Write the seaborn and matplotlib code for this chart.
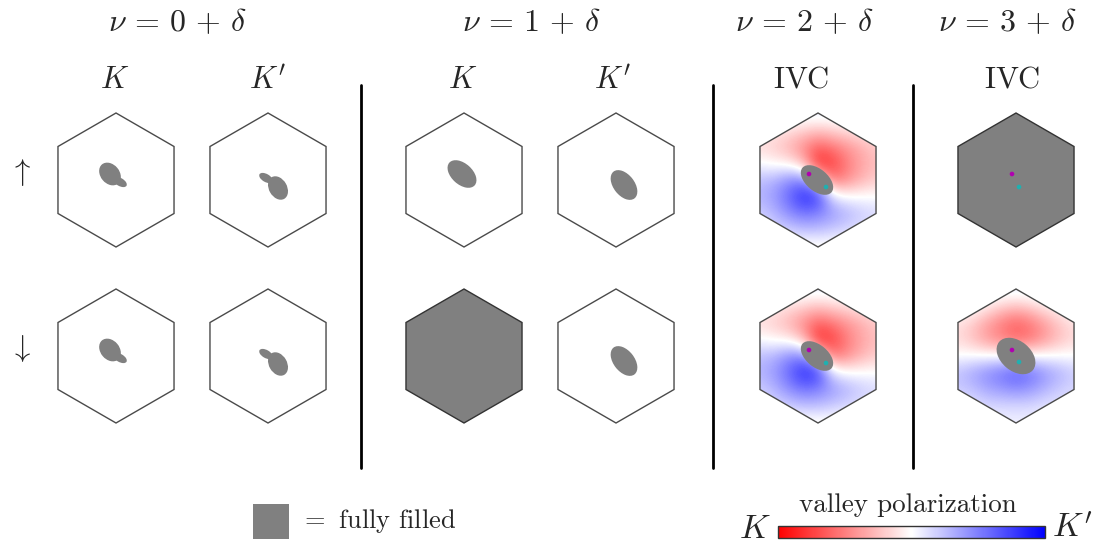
import numpy as np
import matplotlib
matplotlib.use("Agg")
import matplotlib.pyplot as plt
from matplotlib.patches import Polygon, Ellipse, Rectangle
from matplotlib.colors import Normalize
from matplotlib.cm import ScalarMappable
import seaborn as sns

sns.set_style("white")
plt.rcParams["mathtext.fontset"] = "cm"
plt.rcParams["font.family"] = ["cmr10", "DejaVu Sans"]
plt.rcParams["axes.formatter.use_mathtext"] = True

# ---------------- data ----------------
titles = [r"$\nu\,=\,0\,+\,\delta$", r"$\nu\,=\,1\,+\,\delta$",
          r"$\nu\,=\,2\,+\,\delta$", r"$\nu\,=\,3\,+\,\delta$"]
col_labels = [r"$K$", r"$K'$", r"$K$", r"$K'$", r"$\mathrm{IVC}$", r"$\mathrm{IVC}$"]
row_labels = [r"$\uparrow$", r"$\downarrow$"]

# state of every Brillouin-zone panel: pocket / full / ivc
panel_kind = [
    ["pocket", "pocket", "pocket", "pocket", "ivc", "full"],
    ["pocket", "pocket", "full", "pocket", "ivc", "ivc"],
]

# Fermi pockets: (dx, dy, semi-major, semi-minor, angle) relative to zone centre
pocket_K0 = [(-6, -6, 12.5, 9.5, 50), (4, 2, 7.5, 4, 30)]
pocket_Kp0 = [(10, 8, 12.5, 9, 60), (-2, -2, 7.5, 4, 30)]
pocket_K1 = [(-2, -6, 17, 10.5, 42)]
pocket_Kp1 = [(8, 5, 17, 10.5, 52)]
pocket_ivc2 = [(-1, 0, 19, 11, 40)]
pocket_ivc3 = [(0, 0, 22, 15, 40)]

pockets = {
    (0, 0): pocket_K0, (0, 1): pocket_Kp0, (0, 2): pocket_K1, (0, 3): pocket_Kp1,
    (0, 4): pocket_ivc2,
    (1, 0): pocket_K0, (1, 1): pocket_Kp0, (1, 3): pocket_Kp1,
    (1, 4): pocket_ivc2, (1, 5): pocket_ivc3,
}

# order-parameter centres (magenta, cyan) offsets
dots = {
    (0, 4): [(-9, -6), (8, 7)],
    (1, 4): [(-9, -6), (8, 7)],
    (0, 5): [(-4, -6), (3, 7)],
    (1, 5): [(-4, -6), (3, 6)],
}
dot_colors = ["#b000b0", "#1fb0b0"]

# valley polarization sampled on 9x9 grid (-1 = K red, +1 = K' blue)
vp_nu2_up = np.array([
    [0.10, 0.10, 0.10, 0.10, 0.10, 0.10, 0.10, 0.05, 0.05],
    [-0.05, -0.05, -0.10, -0.15, -0.20, -0.15, -0.10, -0.05, -0.05],
    [-0.15, -0.20, -0.30, -0.45, -0.60, -0.50, -0.40, -0.30, -0.20],
    [0.00, -0.05, -0.10, -0.30, -0.85, -0.75, -0.50, -0.35, -0.25],
    [0.25, 0.30, 0.45, 0.45, 0.00, -0.55, -0.45, -0.30, -0.20],
    [0.30, 0.40, 0.60, 0.85, 0.75, 0.10, 0.00, 0.00, 0.00],
    [0.20, 0.30, 0.45, 0.55, 0.50, 0.40, 0.30, 0.20, 0.15],
    [0.10, 0.15, 0.20, 0.25, 0.25, 0.20, 0.15, 0.10, 0.10],
    [0.00, 0.00, -0.05, -0.05, -0.05, -0.05, -0.05, 0.00, 0.00],
])
vp_nu2_down = np.array([
    [0.10, 0.10, 0.10, 0.10, 0.10, 0.10, 0.10, 0.05, 0.05],
    [0.00, -0.05, -0.10, -0.15, -0.20, -0.15, -0.10, -0.05, -0.05],
    [-0.15, -0.20, -0.30, -0.45, -0.60, -0.50, -0.40, -0.30, -0.20],
    [0.00, -0.05, -0.10, -0.30, -0.85, -0.75, -0.50, -0.35, -0.25],
    [0.25, 0.30, 0.45, 0.45, 0.00, -0.55, -0.45, -0.30, -0.20],
    [0.30, 0.40, 0.60, 0.85, 0.75, 0.10, 0.00, 0.00, 0.00],
    [0.20, 0.30, 0.45, 0.55, 0.50, 0.40, 0.30, 0.20, 0.15],
    [0.10, 0.15, 0.20, 0.25, 0.25, 0.20, 0.15, 0.10, 0.10],
    [0.00, 0.00, -0.05, -0.05, -0.05, -0.05, -0.05, 0.00, 0.00],
])
vp_nu3_down = np.array([
    [0.10, 0.10, 0.10, 0.10, 0.10, 0.10, 0.10, 0.10, 0.10],
    [0.10, 0.05, -0.05, -0.15, -0.20, -0.15, -0.05, 0.00, 0.05],
    [-0.10, -0.20, -0.35, -0.50, -0.60, -0.50, -0.35, -0.20, -0.10],
    [-0.15, -0.25, -0.40, -0.50, -0.60, -0.55, -0.40, -0.25, -0.15],
    [0.00, 0.00, 0.00, 0.00, 0.00, 0.00, 0.00, 0.00, 0.00],
    [0.25, 0.35, 0.45, 0.55, 0.65, 0.55, 0.40, 0.30, 0.20],
    [0.20, 0.25, 0.35, 0.40, 0.45, 0.40, 0.30, 0.20, 0.15],
    [0.10, 0.10, 0.15, 0.15, 0.15, 0.15, 0.10, 0.10, 0.10],
    [0.05, 0.05, 0.05, 0.05, 0.05, 0.05, 0.05, 0.05, 0.05],
])
fields = {(0, 4): vp_nu2_up, (1, 4): vp_nu2_down, (1, 5): vp_nu3_down}

# ---------------- layout ----------------
W, H = 1104, 544
col_x = [116, 268, 464, 616, 818, 1016]
row_y = [180, 356]
R = 67
title_x = [177, 531, 804, 1007]
label_x = [115, 268, 463, 613, 801, 1012]
sep_x = [361, 713, 913]
GREY = "#808080"
EDGE = "#4a4a4a"

cmap = sns.blend_palette(["#ff0000", "#ffffff", "#0000ff"], as_cmap=True)
norm = Normalize(-1, 1)

fig = plt.figure(figsize=(W / 100, H / 100), dpi=100)
ax = fig.add_axes([0, 0, 1, 1])
ax.set_xlim(0, W)
ax.set_ylim(H, 0)
ax.axis("off")


def hexagon(cx, cy, **kw):
    ang = np.deg2rad(90 + 60 * np.arange(6))
    pts = np.column_stack([cx + R * np.cos(ang), cy - R * np.sin(ang)])
    return Polygon(pts, closed=True, **kw)


for r, cy in enumerate(row_y):
    for c, cx in enumerate(col_x):
        kind = panel_kind[r][c]
        full = kind == "full"
        face = GREY if full else "white"
        ax.add_patch(hexagon(cx, cy, facecolor=face, edgecolor="none", zorder=1))
        clip = hexagon(cx, cy, facecolor="none", edgecolor="none", transform=ax.transData)
        if (r, c) in fields:
            grid = fields[(r, c)]
            hx = 116 / 8 / 2
            hy = 134 / 8 / 2
            im = ax.imshow(grid, cmap=cmap, norm=norm, interpolation="bicubic",
                           extent=(cx - 58 - hx, cx + 58 + hx, cy + 67 + hy, cy - 67 - hy),
                           origin="upper", zorder=2, aspect="auto")
            im.set_clip_path(clip)
        for (dx, dy, a, b, angl) in pockets.get((r, c), []):
            e = Ellipse((cx + dx, cy + dy), 2 * a, 2 * b, angle=angl,
                        facecolor=GREY, edgecolor="none", zorder=3)
            ax.add_patch(e)
        ax.add_patch(hexagon(cx, cy, facecolor="none", edgecolor="#333333" if full else EDGE,
                             linewidth=1.0, zorder=4))
        if (r, c) in dots:
            pts = dots[(r, c)]
            sns.scatterplot(x=[cx + p[0] for p in pts], y=[cy + p[1] for p in pts],
                            hue=["m", "c"], palette=dot_colors, s=11, linewidth=0,
                            legend=False, ax=ax, zorder=5)

ax.set_xlim(0, W)
ax.set_ylim(H, 0)

for t, x in zip(titles, title_x):
    ax.text(x, 22, t, ha="center", va="center", fontsize=23)
for t, x in zip(col_labels, label_x):
    ax.text(x, 80, t, ha="center", va="center", fontsize=22)
for t, y in zip(row_labels, row_y):
    ax.text(20, y - 8, t, ha="center", va="center", fontsize=22)

for x in sep_x:
    ax.plot([x, x], [85, 468], color="black", linewidth=2.0, zorder=6)

# legend for fully filled
ax.add_patch(Rectangle((253, 504), 36, 35, facecolor=GREY, edgecolor="none"))
ax.text(300, 521, r"$=$ fully filled", ha="left", va="center", fontsize=19)

# colorbar
cax = fig.add_axes([778 / W, 1 - 538 / H, (1045 - 778) / W, 12 / H])
cb = fig.colorbar(ScalarMappable(norm=norm, cmap=cmap), cax=cax, orientation="horizontal")
cb.set_ticks([])
cb.outline.set_edgecolor("#333333")
cb.outline.set_linewidth(1.0)
ax.text(908, 505, "valley polarization", ha="center", va="center", fontsize=19.5)
ax.text(755, 529, r"$K$", ha="center", va="center", fontsize=24)
ax.text(1072, 529, r"$K'$", ha="center", va="center", fontsize=24)

fig.savefig("out.png", dpi=100)
